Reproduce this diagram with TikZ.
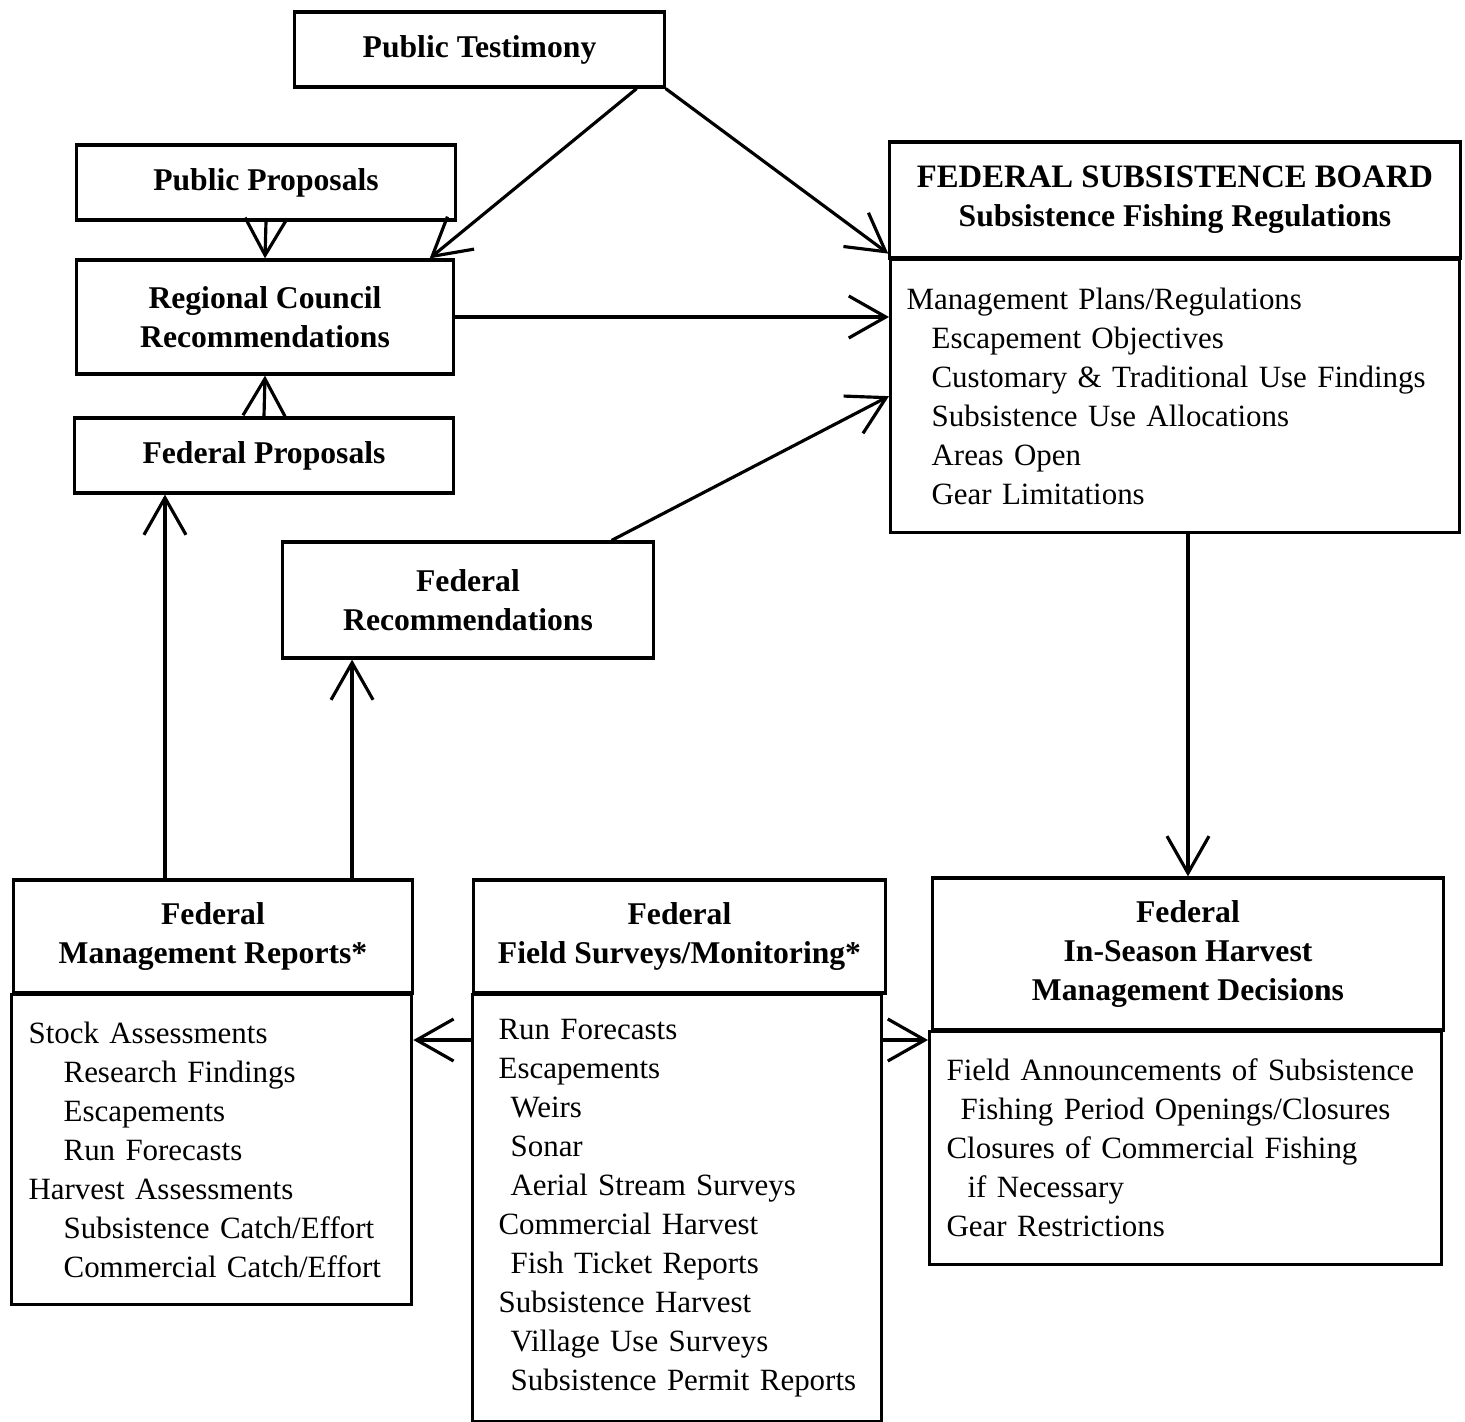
\documentclass[tikz,border=0pt]{standalone}
\usepackage{fontspec}
\setmainfont{Liberation Serif}
\usepackage{tikz}
\usepackage{xcolor}
\usetikzlibrary{shapes,arrows.meta,positioning}
\tikzstyle{line} = [draw, line width=0.9pt, -{Straight Barb[length=3.7mm,width=4.2mm,line width=0.9pt]}]
\newcommand{\subA}{\hspace*{2.5mm}}
\newcommand{\subB}{\hspace*{3.5mm}}
\newcommand{\subC}{\hspace*{1.6mm}}

\begin{document}
\begin{tikzpicture}[x=0.01cm, y=-0.01cm,
    box/.style={rectangle, draw, line width=0.9pt, text centered, font=\fontsize{9}{11.1}\selectfont\bfseries, inner sep=0pt},
    body/.style={rectangle, draw, line width=0.9pt, align=left, font=\fontsize{8.8}{11.1}\selectfont, inner ysep=0pt, anchor=north west}]
    \useasboundingbox (0,0) rectangle (1465,1422);
    % top row
    \node[box, minimum width=3.69cm, minimum height=0.75cm] (PublicTestimony) at (479.5,49.5) {Public Testimony};
    \node[box, minimum width=3.78cm, minimum height=0.75cm] (PublicProposals) at (266,182.5) {Public Proposals};
    \node[box, minimum width=3.76cm, minimum height=1.14cm, align=center] (RegionalCouncil) at (265,317) {Regional Council\\Recommendations};
    \node[box, minimum width=3.78cm, minimum height=0.75cm] (FederalProposals) at (264,455.5) {Federal Proposals};
    \node[box, minimum width=3.70cm, minimum height=1.16cm, align=center] (FederalRecs) at (468,600) {Federal\\Recommendations};
    % board
    \node[box, minimum width=5.70cm, minimum height=1.16cm, align=center] (Board) at (1175,200) {{\fontsize{9.3}{11.1}\selectfont FEDERAL SUBSISTENCE BOARD}\\Subsistence Fishing Regulations};
    \node[body, minimum width=5.69cm, minimum height=2.73cm, text width=5.37cm, inner xsep=0.16cm] (BoardRules) at (889,258) {Management Plans/Regulations\\
        \subA Escapement Objectives\\
        \subA Customary \& Traditional Use Findings\\
        \subA Subsistence Use Allocations\\
        \subA Areas Open\\
        \subA Gear Limitations};
    % bottom row
    \node[box, minimum width=3.98cm, minimum height=1.13cm, align=center] (MgmtReports) at (213,936.5) {Federal\\Management Reports*};
    \node[body, minimum width=4.00cm, minimum height=3.10cm, text width=3.66cm, inner xsep=0.17cm] (MgmtReportsBody) at (10,993) {Stock Assessments\\
        \subB Research Findings\\
        \subB Escapements\\
        \subB Run Forecasts\\
        Harvest Assessments\\
        \subB Subsistence Catch/Effort\\
        \subB Commercial Catch/Effort};
    \node[box, minimum width=4.11cm, minimum height=1.13cm, align=center] (FieldSurveys) at (679.5,936.5) {Federal\\Field Surveys/Monitoring*};
    \node[body, minimum width=4.09cm, minimum height=4.27cm, text width=3.65cm, inner xsep=0.22cm] (FieldSurveysBody) at (471,993) {\hspace*{0.4mm}Run Forecasts\\
        \hspace*{0.4mm}Escapements\\
        \subC Weirs\\
        \subC Sonar\\
        \subC Aerial Stream Surveys\\
        \hspace*{0.4mm}Commercial Harvest\\
        \subC Fish Ticket Reports\\
        \hspace*{0.4mm}Subsistence Harvest\\
        \subC Village Use Surveys\\
        \subC Subsistence Permit Reports};
    \node[box, minimum width=5.10cm, minimum height=1.52cm, align=center] (InSeason) at (1188,954) {Federal\\In-Season Harvest\\Management Decisions};
    \node[body, minimum width=5.12cm, minimum height=2.33cm, text width=4.82cm, inner xsep=0.15cm] (InSeasonBody) at (928,1030) {\hspace*{0.2mm}Field Announcements of Subsistence\\
        \subC Fishing Period Openings/Closures\\
        \hspace*{0.2mm}Closures of Commercial Fishing\\
        \hspace*{2.3mm}if Necessary\\
        \hspace*{0.2mm}Gear Restrictions};

    \coordinate (ReportsUp) at ([xshift=-0.48cm]MgmtReports.north);
    \coordinate (RecsUp) at ([xshift=1.39cm]MgmtReports.north);
    \coordinate (FieldOut) at ([yshift=-0.47cm]FieldSurveysBody.north west);
    \coordinate (FieldIn) at ([yshift=-0.47cm]FieldSurveysBody.north east);

    \path [line] ([xshift=-0.29cm]PublicTestimony.south east) -- ([xshift=-0.25cm]RegionalCouncil.north east);
    \path [line] (PublicTestimony.south east) -- ([yshift=0.06cm]Board.south west);
    \path [line] (PublicProposals.south) -- (RegionalCouncil.north);
    \path [line] (RegionalCouncil.east) -- (RegionalCouncil.east -| BoardRules.west);
    \path [line] (FederalProposals.north) -- (RegionalCouncil.south);
    \path [line] ([xshift=-0.43cm]FederalRecs.north east) -- (BoardRules.west);
    \path [line] (ReportsUp) -- (ReportsUp |- FederalProposals.south);
    \path [line] (RecsUp) -- (RecsUp |- FederalRecs.south);
    \path [line] (InSeason.north |- BoardRules.south) -- (InSeason.north);
    \path [line] (FieldOut) -- (FieldOut -| MgmtReportsBody.east);
    \path [line] (FieldIn) -- (FieldIn -| InSeasonBody.west);
\end{tikzpicture}
\end{document}
